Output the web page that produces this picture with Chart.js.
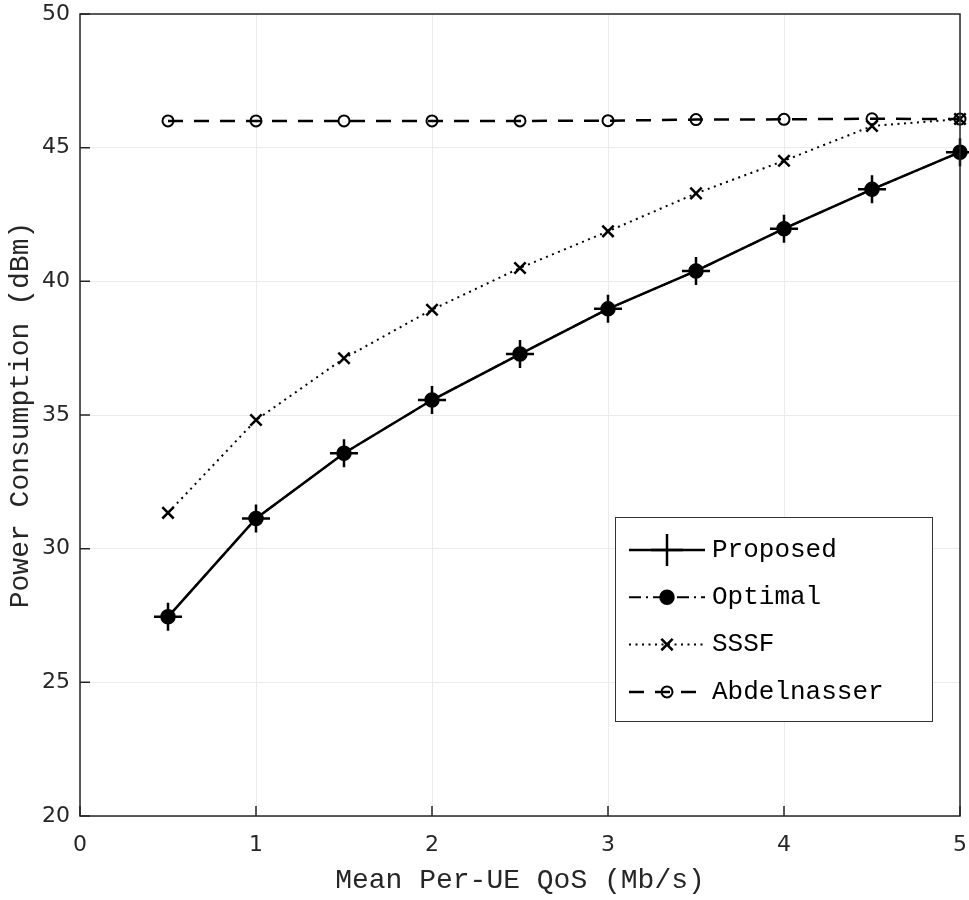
<!DOCTYPE html>
<html>
<head>
<meta charset="utf-8">
<script src="https://cdn.jsdelivr.net/npm/chart.js@4.4.1/dist/chart.umd.min.js"></script>
<style>
  body { margin: 0; background: #fff; overflow: hidden; }
  canvas { display: block; }
</style>
</head>
<body>
<canvas id="powerChart" width="969" height="900"></canvas>
<script>
// values
const qos = [0.5, 1, 1.5, 2, 2.5, 3, 3.5, 4, 4.5, 5]
const proposed = [27.45, 31.13, 33.57, 35.56, 37.28, 38.97, 40.39, 41.97, 43.44, 44.83]
const optimal = [27.45, 31.13, 33.57, 35.56, 37.28, 38.97, 40.39, 41.97, 43.44, 44.83]
const sssf = [31.34, 34.81, 37.12, 38.94, 40.50, 41.87, 43.29, 44.51, 45.81, 46.07]
const abdelnasser = [46.0, 46.0, 46.0, 46.0, 46.0, 46.01, 46.05, 46.06, 46.08, 46.07]
const xTicks = [0, 1, 2, 3, 4, 5]
const yTicks = [20, 25, 30, 35, 40, 45, 50]

const axisCol = '#262626'
const monoFont = '"Liberation Mono", "DejaVu Sans Mono", monospace'

function pts(ys){
    return qos.map(function(x, i){ return {x: x, y: ys[i]} })
}

// box, inside ticks and the legend, MATLAB style
const boxPlugin = {
    id: 'boxPlugin',
    afterDraw(chart){
        let ctx = chart.ctx
        let a = chart.chartArea
        let xs = chart.scales.x
        let ys = chart.scales.y
        ctx.save()
        ctx.strokeStyle = axisCol
        ctx.lineWidth = 1.5
        ctx.strokeRect(a.left, a.top, a.right - a.left, a.bottom - a.top)
        ctx.beginPath()
        for (let v of yTicks){
            let py = ys.getPixelForValue(v)
            ctx.moveTo(a.left, py)
            ctx.lineTo(a.left + 10, py)
        }
        for (let v of xTicks){
            let px = xs.getPixelForValue(v)
            ctx.moveTo(px, a.bottom)
            ctx.lineTo(px, a.bottom - 10)
        }
        ctx.stroke()

        // legend
        let lx = a.right - 345, ly = a.top + 503
        let lw = 317, lh = 204
        ctx.fillStyle = '#fff'
        ctx.fillRect(lx, ly, lw, lh)
        ctx.strokeStyle = '#333'
        ctx.lineWidth = 1
        ctx.strokeRect(lx + 0.5, ly + 0.5, lw, lh)

        chart.data.datasets.forEach(function(ds, i){
            let cy = ly + 33 + i * 47.3
            let x0 = lx + 14, x1 = lx + 90, xm = lx + 52
            ctx.strokeStyle = '#000'
            ctx.lineWidth = ds.borderWidth
            ctx.setLineDash(ds.borderDash || [])
            ctx.beginPath()
            ctx.moveTo(x0, cy)
            ctx.lineTo(x1, cy)
            ctx.stroke()
            ctx.setLineDash([])
            ctx.fillStyle = ds.pointBackgroundColor
            ctx.strokeStyle = '#000'
            ctx.lineWidth = ds.pointBorderWidth
            Chart.helpers.drawPoint(ctx, {
                pointStyle: ds.pointStyle,
                radius: ds.pointRadius + (ds.pointStyle === 'cross' ? 2 : 0),
                rotation: 0,
                borderWidth: ds.pointBorderWidth
            }, xm, cy)
            ctx.fillStyle = '#000'
            ctx.font = '26px ' + monoFont
            ctx.textBaseline = 'middle'
            ctx.textAlign = 'left'
            ctx.fillText(ds.label, lx + 97, cy)
        })
        ctx.restore()
    }
}

let powerChart = document.getElementById('powerChart')
let myChart = new Chart(powerChart, {
    type: 'line',
    data: {
        datasets: [{
            label: 'Proposed',
            data: pts(proposed),
            borderColor: '#000',
            borderWidth: 2.5,
            pointStyle: 'cross',
            pointRadius: 14,
            pointBorderWidth: 2.5,
            pointBorderColor: '#000',
            pointBackgroundColor: '#000',
            order: 4
        }, {
            label: 'Optimal',
            data: pts(optimal),
            borderColor: '#000',
            borderWidth: 2,
            borderDash: [12, 5, 2, 5],
            pointStyle: 'circle',
            pointRadius: 7,
            pointBorderWidth: 1.5,
            pointBorderColor: '#000',
            pointBackgroundColor: '#000',
            order: 3
        }, {
            label: 'SSSF',
            data: pts(sssf),
            borderColor: '#000',
            borderWidth: 2,
            borderDash: [2, 4.5],
            pointStyle: 'crossRot',
            pointRadius: 8,
            pointBorderWidth: 2.5,
            pointBorderColor: '#000',
            pointBackgroundColor: '#000',
            order: 2
        }, {
            label: 'Abdelnasser',
            data: pts(abdelnasser),
            borderColor: '#000',
            borderWidth: 2.5,
            borderDash: [15, 11],
            pointStyle: 'circle',
            pointRadius: 5.5,
            pointBorderWidth: 2,
            pointBorderColor: '#000',
            pointBackgroundColor: 'rgba(0,0,0,0)',
            order: 1
        }]
    },
    options: {
        responsive: false,
        animation: false,
        clip: false,
        layout: {
            autoPadding: false,
            padding: {top: 14, right: 9, left: 0, bottom: 0}
        },
        elements: {
            line: {tension: 0, fill: false}
        },
        plugins: {
            legend: {display: false},
            tooltip: {enabled: false}
        },
        scales: {
            x: {
                type: 'linear',
                min: 0,
                max: 5,
                afterFit(scale){
                    scale.height = 84
                    scale.paddingLeft = 0
                    scale.paddingRight = 0
                },
                afterBuildTicks(scale){ scale.ticks = xTicks.map(function(v){ return {value: v} }) },
                grid: {color: '#ebebeb', lineWidth: 1, drawTicks: false},
                border: {display: false},
                ticks: {
                    color: axisCol,
                    padding: 16,
                    maxRotation: 0,
                    font: {family: '"DejaVu Sans"', size: 22}
                },
                title: {
                    display: true,
                    text: 'Mean Per-UE QoS (Mb/s)',
                    color: axisCol,
                    padding: {top: 0, bottom: 3},
                    font: {family: monoFont, size: 28}
                }
            },
            y: {
                type: 'linear',
                min: 20,
                max: 50,
                afterFit(scale){
                    scale.width = 80
                    scale.paddingTop = 0
                    scale.paddingBottom = 0
                },
                afterBuildTicks(scale){ scale.ticks = yTicks.map(function(v){ return {value: v} }) },
                grid: {color: '#ebebeb', lineWidth: 1, drawTicks: false},
                border: {display: false},
                ticks: {
                    color: axisCol,
                    padding: 10,
                    font: {family: '"DejaVu Sans"', size: 22}
                },
                title: {
                    display: true,
                    text: 'Power Consumption (dBm)',
                    color: axisCol,
                    padding: {top: 4, bottom: 0},
                    font: {family: monoFont, size: 28}
                }
            }
        }
    },
    plugins: [boxPlugin]
})
</script>
</body>
</html>
